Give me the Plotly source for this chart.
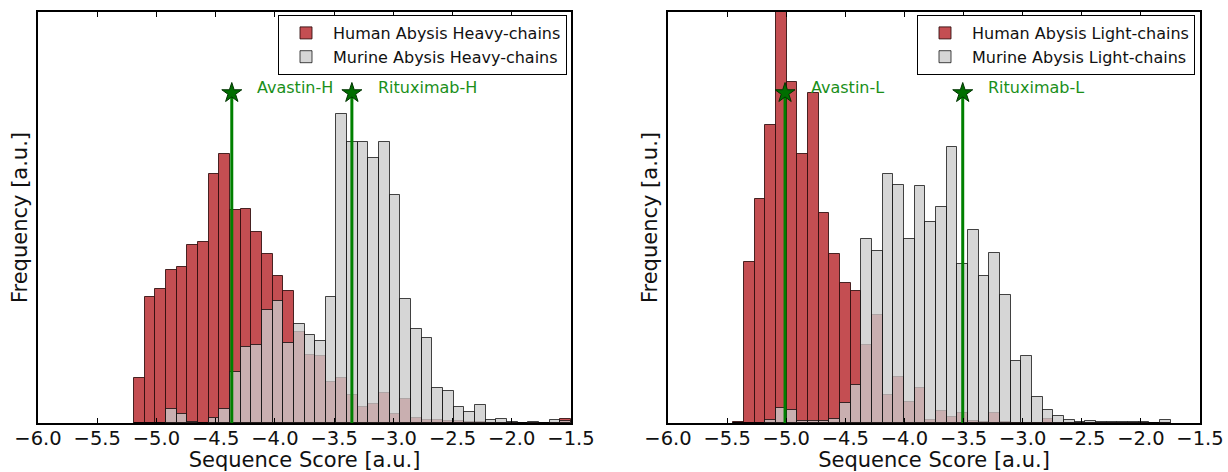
import plotly.graph_objects as go

# ---------------- data ----------------
# Heavy chains: 41 bins starting at -5.19, width 0.09
heavy_bin_start = -5.19
heavy_bin_width = 0.09
human_heavy = [45, 126, 134, 153, 156, 178, 181, 249, 269, 213,
               214, 191, 169, 147, 132, 91, 68, 67, 41, 45,
               28, 16, 19, 30, 9, 24, 5, 3, 3, 2,
               2, 1, 1, 0.5, 0.5, 0, 0, 0, 0, 0, 4]
murine_heavy = [0, 0.5, 0.5, 14, 9, 1, 0.5, 5, 14, 51,
                76, 78, 113, 122, 80, 99, 88, 82, 126, 309,
                281, 281, 265, 281, 228, 124, 94, 85, 35, 32,
                16, 11, 18, 3, 4, 1, 0.3, 1, 0, 3, 2]

# Light chains: 41 bins starting at -5.447, width 0.0902
light_bin_start = -5.447
light_bin_width = 0.0902
human_light = [1.5, 161, 224, 298, 411, 341, 269, 330, 210, 169,
               140, 132, 78, 108, 28, 46, 21, 35, 3, 12,
               6, 10, 2, 1, 10, 1.3, 0.5, 0.5, 0.3, 4,
               0, 0, 0, 0, 0, 0, 0, 0, 0, 0, 0]
murine_light = [0, 0, 0.5, 3, 15, 13, 2, 2, 2, 4,
                20, 38, 184, 172, 249, 238, 184, 237, 201, 216,
                276, 159, 193, 147, 170, 128, 62, 67, 26, 13,
                7, 3.5, 1.5, 1.7, 1.5, 1.5, 1.5, 1.5, 1.5, 0, 2.7]

antibodies_heavy = ["Avastin-H", "Rituximab-H"]
scores_heavy = [-4.364, -3.35]
antibodies_light = ["Avastin-L", "Rituximab-L"]
scores_light = [-5.01, -3.507]
marker_height = 330

legend_heavy = ["Human Abysis Heavy-chains", "Murine Abysis Heavy-chains"]
legend_light = ["Human Abysis Light-chains", "Murine Abysis Light-chains"]

x_ticks = [-6.0, -5.5, -5.0, -4.5, -4.0, -3.5, -3.0, -2.5, -2.0, -1.5]
y_max = 411

# ---------------- styles ----------------
W, H = 1228, 472
RED = "#C44E52"
RED_EDGE = "rgba(45,10,10,0.85)"
GREY = "rgba(202,202,202,0.78)"
GREY_EDGE = "rgba(0,0,0,0.72)"
GREEN = "#008000"
FONT = "DejaVu Sans"

fig = go.Figure()


def centers(start, width, n):
    return [start + width * (i + 0.5) for i in range(n)]


def add_panel(xa, ya, legend, start, width, human, murine, names, abs_, scores):
    xc = centers(start, width, len(human))
    fig.add_trace(go.Bar(x=xc, y=human, width=width, name=names[0],
                         marker=dict(color=RED, line=dict(color=RED_EDGE, width=1)),
                         xaxis=xa, yaxis=ya, legend=legend))
    fig.add_trace(go.Bar(x=xc, y=murine, width=width, name=names[1],
                         marker=dict(color=GREY, line=dict(color=GREY_EDGE, width=1)),
                         xaxis=xa, yaxis=ya, legend=legend))
    for name, s in zip(abs_, scores):
        fig.add_trace(go.Scatter(x=[s, s], y=[0, marker_height], mode="lines",
                                 line=dict(color=GREEN, width=3), showlegend=False,
                                 xaxis=xa, yaxis=ya, hoverinfo="skip"))
        fig.add_trace(go.Scatter(x=[s], y=[marker_height], mode="markers",
                                 marker=dict(symbol="star", size=15, color="#006e00",
                                             line=dict(color="#003300", width=1)),
                                 showlegend=False, xaxis=xa, yaxis=ya))
        fig.add_annotation(x=s + 0.2, y=marker_height + 6, text=name, showarrow=False,
                           xanchor="left", yanchor="middle", xref=xa, yref=ya,
                           font=dict(family=FONT, size=16, color="#1a8f1a"))


add_panel("x", "y", "legend", heavy_bin_start, heavy_bin_width, human_heavy, murine_heavy,
          legend_heavy, antibodies_heavy, scores_heavy)
add_panel("x2", "y2", "legend2", light_bin_start, light_bin_width, human_light, murine_light,
          legend_light, antibodies_light, scores_light)

ydom = [1 - 423 / H, 1 - 12 / H]


def xaxis(domain, anchor):
    return dict(domain=domain, anchor=anchor, range=[-6, -1.5], tickvals=x_ticks,
                tickformat=".1f", ticks="inside", ticklen=5, tickwidth=1, tickcolor="black",
                mirror="allticks", showline=True, linewidth=2, linecolor="black",
                showgrid=False, zeroline=False, automargin=False, ticklabelstandoff=-3,
                tickfont=dict(family=FONT, size=19.5, color="#111"),
                title=dict(text="Sequence Score [a.u.]", standoff=1,
                           font=dict(family=FONT, size=21, color="#111")))


def yaxis(anchor):
    return dict(domain=ydom, anchor=anchor, range=[0, y_max], showticklabels=False,
                ticks="", showline=True, mirror=True, linewidth=2, linecolor="black",
                showgrid=False, zeroline=False, automargin=False,
                title=dict(text="Frequency [a.u.]", standoff=3,
                           font=dict(family=FONT, size=21, color="#111")))


legend_style = dict(bgcolor="white", bordercolor="black", borderwidth=1,
                    font=dict(family=FONT, size=16, color="#111"),
                    xanchor="right", yanchor="top", tracegroupgap=0, itemwidth=44)

fig.update_layout(
    width=W, height=H,
    margin=dict(l=0, r=0, t=0, b=0, autoexpand=False),
    paper_bgcolor="white", plot_bgcolor="white",
    barmode="overlay", bargap=0,
    font=dict(family=FONT),
    xaxis=xaxis([38 / W, 571 / W], "y"),
    yaxis=yaxis("x"),
    xaxis2=xaxis([668 / W, 1200 / W], "y2"),
    yaxis2=yaxis("x2"),
    legend=dict(x=567 / W, y=1 - 15 / H, **legend_style),
    legend2=dict(x=1195 / W, y=1 - 15 / H, **legend_style),
)

fig.write_html("out.html")
